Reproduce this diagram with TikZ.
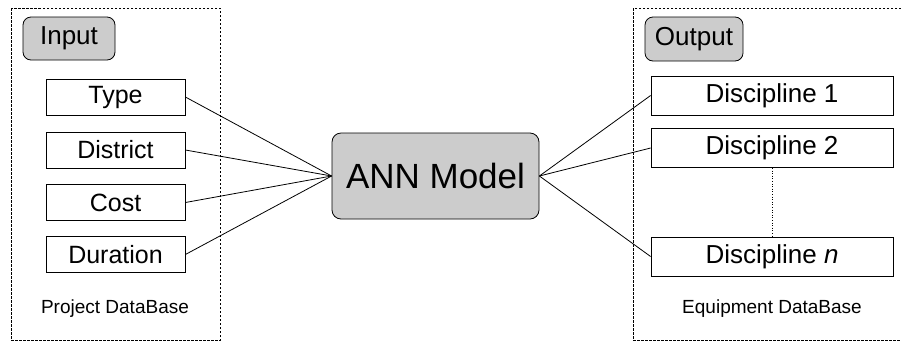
\documentclass[tikz,border=0pt]{standalone}
\usepackage{fontspec}
\setmainfont{Liberation Sans}
\begin{document}
\begin{tikzpicture}[x=1pt,y=-1pt,
  frame/.style={draw, dashed, dash pattern=on 2.5pt off 1.5pt, line width=0.6pt},
  tag/.style={draw, line width=0.8pt, rounded corners=8pt, fill=gray!40, inner sep=0pt,
    font=\fontsize{26}{30}\selectfont},
  inbox/.style={draw, line width=0.8pt, minimum width=139pt, minimum height=36pt, inner sep=0pt,
    font=\fontsize{25}{30}\selectfont},
  outbox/.style={draw, line width=0.8pt, minimum width=242pt, minimum height=39pt, inner sep=0pt,
    font=\fontsize{26}{30}\selectfont},
  model/.style={draw, line width=0.8pt, rounded corners=9pt, fill=gray!40, minimum width=207pt,
    minimum height=86pt, inner sep=0pt, font=\fontsize{35}{40}\selectfont},
  dblabel/.style={inner sep=0pt, font=\fontsize{19}{22}\selectfont},
  link/.style={line width=0.8pt}
]
\useasboundingbox (0,0) rectangle (901,341);
% frames
\draw[frame] (11,8) rectangle (220,340);
\draw[frame] (901,8) -- (633,8) -- (633,340) -- (901,340);
% tags
\node[tag, minimum width=92pt, minimum height=43pt] (input) at (69,38.5) {Input};
\node[tag, minimum width=98pt, minimum height=44pt] (output) at (694,39) {Output};
% inputs
\node[inbox] (type) at (115.5,97) {Type};
\node[inbox] (district) at (115.5,150) {District};
\node[inbox] (cost) at (115.5,202.5) {Cost};
\node[inbox] (duration) at (115.5,254.5) {Duration};
% model
\node[model] (ann) at (435.5,176) {ANN Model};
% outputs
\node[outbox] (d1) at (772,95.5) {Discipline 1};
\node[outbox] (d2) at (772,148) {Discipline 2};
\node[outbox] (dn) at (772,256.5) {Discipline \textit{n}};
% labels
\node[dblabel] (pdb) at (115,309) {Project DataBase};
\node[dblabel] (edb) at (772,309) {Equipment DataBase};
% links
\foreach \n in {type,district,cost,duration} \draw[link] (\n.east) -- (ann.west);
\foreach \n in {d1,d2,dn} \draw[link] (ann.east) -- (\n.west);
\draw[dotted, line width=0.6pt] (d2.south) -- (dn.north);
\end{tikzpicture}
\end{document}
